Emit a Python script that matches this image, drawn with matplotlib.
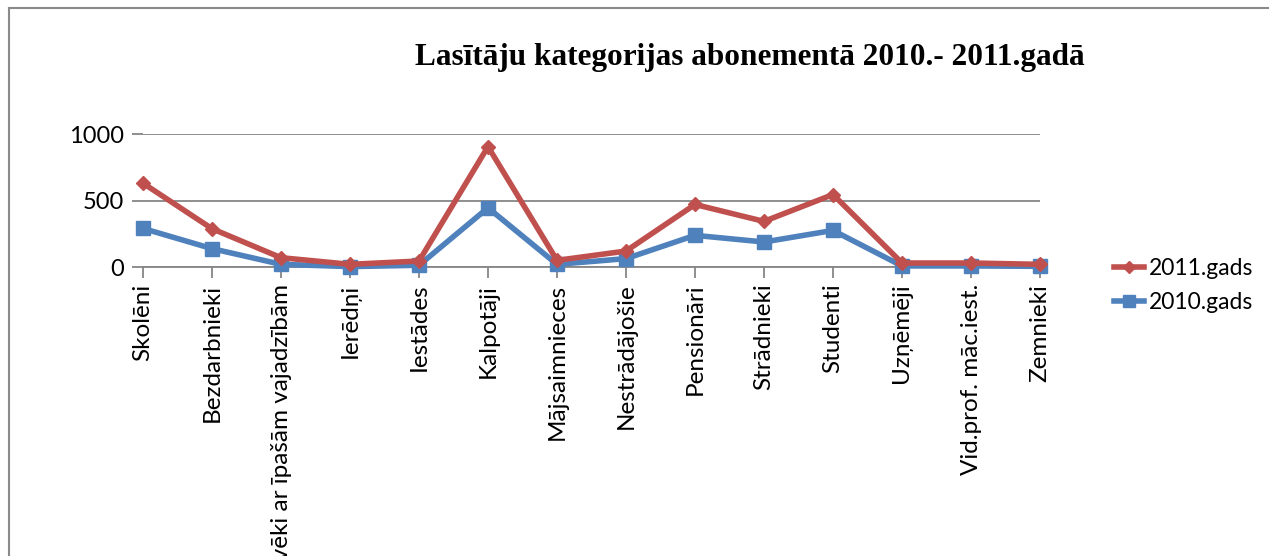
import matplotlib.pyplot as plt
from matplotlib.lines import Line2D

kategorijas = ["Skolēni", "Bezdarbnieki", "Cilvēki ar īpašām vajadzībām", "Ierēdņi",
               "Iestādes", "Kalpotāji", "Mājsaimnieces", "Nestrādājošie", "Pensionāri",
               "Strādnieki", "Studenti", "Uzņēmēji", "Vid.prof. māc.iest.", "Zemnieki"]
gads_2011 = [630, 288, 70, 20, 45, 905, 50, 120, 470, 343, 545, 30, 30, 20]
gads_2010 = [290, 138, 20, 3, 13, 445, 20, 63, 238, 188, 275, 8, 8, 5]
y_ticks = [0, 500, 1000]

red = "#C0504D"
blue = "#4F81BD"
grid = "#868686"

plt.rcParams['font.family'] = ['Lato', 'DejaVu Sans']

fig = plt.figure(figsize=(12.69, 5.56), dpi=100)
ax = fig.add_axes([143 / 1269, 1 - 267 / 556, (1040 - 143) / 1269, (267 - 134) / 556])

x = list(range(len(kategorijas)))
ax.plot(x, gads_2010, color=blue, lw=4, marker="s", ms=10, label="2010.gads",
        clip_on=False, zorder=3)
ax.plot(x, gads_2011, color=red, lw=4, marker="D", ms=7.5, label="2011.gads",
        clip_on=False, zorder=4)

ax.set_xlim(0, len(kategorijas) - 1)
ax.set_ylim(0, 1000)
ax.set_yticks(y_ticks)
ax.set_xticks(x)
ax.set_xticklabels(kategorijas, rotation=90, ha="center", va="top")
ax.grid(axis="y", color=grid, lw=1.3)
ax.set_axisbelow(True)
for s in ["top", "right", "left"]:
    ax.spines[s].set_visible(False)
ax.spines["bottom"].set_color(grid)
ax.spines["bottom"].set_linewidth(1.3)
ax.tick_params(axis="x", length=8, color=grid, width=1.3, labelsize=17.5, pad=4)
ax.tick_params(axis="y", length=8, color=grid, width=1.3, labelsize=17, pad=6)

h, l = ax.get_legend_handles_labels()
ax.legend(h[::-1], l[::-1], loc="center left", bbox_to_anchor=(1.06, -0.14),
          frameon=False, fontsize=16.5, handlelength=1.3, handletextpad=0.2,
          labelspacing=0.55, markerscale=0.8)

fig.text(0.591, 1 - 57 / 556, "Lasītāju kategorijas abonementā 2010.- 2011.gadā",
         ha="center", va="center", family="Liberation Serif", weight="bold", fontsize=22.5)

# chart area border (top and left edges visible)
fig.add_artist(Line2D([9 / 1269, 9 / 1269], [0, 1 - 8 / 556], transform=fig.transFigure,
                      color="#8a8a8a", lw=1.5))
fig.add_artist(Line2D([9 / 1269, 1], [1 - 8 / 556, 1 - 8 / 556], transform=fig.transFigure,
                      color="#8a8a8a", lw=1.5))

fig.savefig("out.png", dpi=100)
